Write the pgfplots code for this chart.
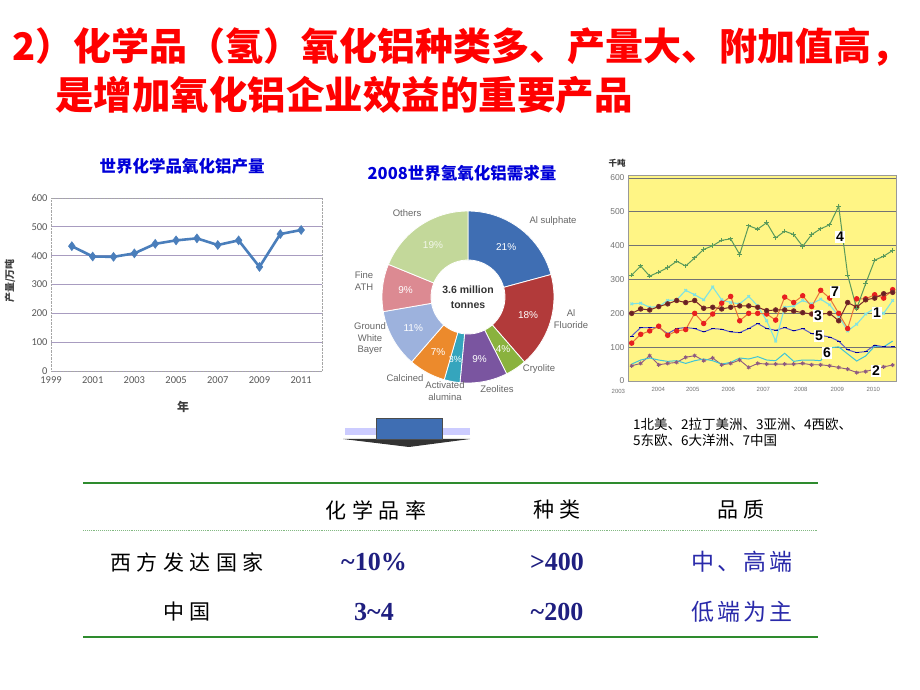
\documentclass[border=0pt]{standalone}
\usepackage{pgfplots}
\usepackage{pgfplotstable}
\pgfplotsset{compat=1.18}
\usepackage{fontspec}
\setmainfont{Liberation Sans}
\newfontfamily\cjk{Noto Sans CJK SC}
\newfontfamily\cjksp{Noto Sans CJK SC}[LetterSpace=26]
\newfontfamily\cjkq{Noto Sans CJK SC}[LetterSpace=13]
\newfontfamily\carlito{Carlito}
\newfontfamily\tnr{Liberation Serif}
\definecolor{tickgray}{HTML}{595959}
\definecolor{lineblue}{HTML}{4A7EBB}
\definecolor{gridpurple}{HTML}{A89CC0}
\definecolor{ttlblue}{HTML}{0000D8}
\definecolor{chyellow}{HTML}{FFF585}
\definecolor{tblgreen}{HTML}{2E8B2E}
\definecolor{tblnavy}{HTML}{1F1F80}
\definecolor{tblblue}{HTML}{2A2AAA}
\definecolor{wA}{HTML}{3F6EB3}
\definecolor{wB}{HTML}{B23A3A}
\definecolor{wC}{HTML}{8AB23E}
\definecolor{wD}{HTML}{7A55A0}
\definecolor{wE}{HTML}{35A5BD}
\definecolor{wF}{HTML}{EC8A2C}
\definecolor{wG}{HTML}{9DB2DD}
\definecolor{wH}{HTML}{DC8A92}
\definecolor{wI}{HTML}{C3D89A}
\definecolor{sOne}{HTML}{7FE3E3}
\definecolor{sTwo}{HTML}{8E5A80}
\definecolor{sThree}{HTML}{7A2A2A}
\definecolor{sFour}{HTML}{5A9A5A}
\definecolor{sFive}{HTML}{5A5AC8}
\definecolor{sSix}{HTML}{3FC4D6}
\definecolor{sSeven}{HTML}{E8743A}
\definecolor{sSevenM}{HTML}{E82020}
\definecolor{titlered}{HTML}{FF0000}

\pgfplotstableread{
year val
2000 433
2001 397
2002 396
2003 408
2004 441
2005 453
2006 460
2007 437
2008 453
2009 361
2010 475
2011 489
}\prodtable

\pgfplotstableread{
q s1 s2 s3 s4 s5 s6 s7
0 228 45 200 313 133 50 112
1 230 52 213 340 158 62 138
2 218 75 210 310 158 68 148
3 220 48 220 322 158 62 162
4 238 52 228 335 140 58 135
5 240 55 238 354 155 60 148
6 268 70 232 340 158 52 152
7 255 75 238 364 155 60 200
8 240 60 215 389 145 65 170
9 278 68 218 400 155 60 198
10 240 48 213 416 153 50 230
11 232 52 218 420 145 55 250
12 228 62 222 374 143 68 178
13 250 40 222 459 155 65 200
14 222 52 218 449 170 72 200
15 178 50 208 468 155 62 198
16 118 50 210 423 150 60 180
17 218 50 210 443 158 82 248
18 222 50 207 433 148 58 232
19 238 52 202 398 155 62 252
20 228 48 198 433 140 62 220
21 242 48 198 450 135 60 268
22 225 45 200 462 130 98 245
23 192 40 178 517 118 101 200
24 148 35 232 313 92 80 155
25 168 25 218 214 84 59 243
26 198 28 240 288 87 74 243
27 215 35 245 357 106 103 255
28 200 42 258 369 101 101 245
29 238 47 262 386 101 118 270
}\regtable

\newcommand\donutwedge[3]{%
\addplot[fill=#3, draw=white, line width=0.8pt, domain=0:2, samples=41, variable=\t]
 ({wr(\t)*cos(wa(\t,#1,#2))},{wr(\t)*sin(wa(\t,#1,#2))}) -- cycle;}

\begin{document}
\begin{tikzpicture}[x=1pt,y=1pt]
\path[fill=white] (0pt,0pt) rectangle (920pt,690pt);

% ---------- title ----------
\node[anchor=west, inner sep=0pt, text=titlered, draw=none] at (12pt,643pt) {\cjk\bfseries\fontsize{38}{40}\selectfont 2）化学品（氢）氧化铝种类多、产量大、附加值高，};
\node[anchor=west, inner sep=0pt, text=titlered] at (55pt,595pt) {\cjk\bfseries\fontsize{38.5}{40}\selectfont 是增加氧化铝企业效益的重要产品};

% ---------- left chart ----------
\node[text=ttlblue] at (182pt,524pt) {\cjk\bfseries\fontsize{16.5}{18}\selectfont 世界化学品氧化铝产量};
\begin{axis}[at={(51pt,319pt)}, anchor=south west, scale only axis,
  width=271pt, height=173pt,
  xmin=1999, xmax=2012, ymin=0, ymax=600,
  xtick={1999,2001,...,2011}, ytick={0,100,...,600},
  x tick label style={/pgf/number format/1000 sep={}, yshift=-2pt},
  /pgf/number format/assume math mode=true,
  tick label style={font=\carlito\fontsize{10.5}{12}\selectfont, text=tickgray},
  ymajorgrids, grid style={color=gridpurple, line width=0.7pt},
  axis line style={draw=black!35, densely dotted},
  major tick style={draw=none},
  clip=false]
\addplot[color=lineblue, line width=2.6pt, mark=diamond*, mark size=4.5pt,
  mark options={solid, fill=lineblue, line width=0.5pt}] table[x=year, y=val] {\prodtable};
\end{axis}
\node[rotate=90, text=black!75] at (10pt,409pt) {\cjk\bfseries\fontsize{10}{11}\selectfont 产量/万吨};
\node[text=black!75] at (183pt,283pt) {\cjk\bfseries\fontsize{12}{13}\selectfont 年};

% ---------- donut ----------
\node[text=ttlblue] at (462pt,517pt) {\cjk\bfseries\fontsize{16.5}{18}\selectfont 2008世界氢氧化铝需求量};
\begin{axis}[at={(382pt,307pt)}, anchor=south west, scale only axis,
  width=172pt, height=172pt, hide axis,
  xmin=-1, xmax=1, ymin=-1, ymax=1, clip=false,
  declare function={wr(\t)=((\t<1.01) ? 1 : 0.43);
    wa(\t,\a,\b)=((\t<1.01) ? (90-3.5644*(\a+(\b-\a)*\t)) : (90-3.5644*(\b-(\b-\a)*(\t-1.05)/0.95)));}]
\donutwedge{0}{21}{wA}
\donutwedge{21}{39}{wB}
\donutwedge{39}{43}{wC}
\donutwedge{43}{52}{wD}
\donutwedge{52}{55}{wE}
\donutwedge{55}{62}{wF}
\donutwedge{62}{73}{wG}
\donutwedge{73}{82}{wH}
\donutwedge{82}{101}{wI}
\begin{scope}[every node/.style={text=white, font=\fontsize{10}{11}\selectfont, inner sep=0pt}]
\node at (axis cs:{0.73*cos(52.57)},{0.73*sin(52.57)}) {21\%};
\node at (axis cs:{0.73*cos(-16.93)},{0.73*sin(-16.93)}) {18\%};
\node at (axis cs:{0.73*cos(-56.14)},{0.73*sin(-56.14)}) {4\%};
\node at (axis cs:{0.73*cos(-79.31)},{0.73*sin(-79.31)}) {9\%};
\node[font=\fontsize{9}{10}\selectfont] at (axis cs:{0.74*cos(-101.5)},{0.74*sin(-101.5)}) {3\%};
\node at (axis cs:{0.73*cos(-118.5)},{0.73*sin(-118.5)}) {7\%};
\node at (axis cs:{0.73*cos(-150.6)},{0.73*sin(-150.6)}) {11\%};
\node at (axis cs:{0.73*cos(-186.2)},{0.73*sin(-186.2)}) {9\%};
\node[text=white!80!wI] at (axis cs:{0.73*cos(-236.1)},{0.73*sin(-236.1)}) {19\%};
\end{scope}
\end{axis}
\node[align=center, text=black!80, font=\bfseries\fontsize{10.5}{15}\selectfont] at (468pt,393pt) {3.6 million\\tonnes};
\begin{scope}[every node/.style={text=black!60, font=\fontsize{9.5}{11.5}\selectfont, inner sep=0pt}]
\node at (553pt,469pt) {Al sulphate};
\node[align=center] at (571pt,371pt) {Al\\Fluoride};
\node at (539pt,321pt) {Cryolite};
\node at (497pt,301pt) {Zeolites};
\node[align=center] at (445pt,299pt) {Activated\\alumina};
\node at (405pt,312pt) {Calcined};
\node[align=center] at (370pt,351pt) {Ground\\White\\Bayer};
\node[align=right] at (364pt,409pt) {Fine\\ATH};
\node at (407pt,477pt) {Others};
\end{scope}

% ---------- arrow ----------
\fill[blue!20] (345pt,255pt) rectangle (470pt,262pt);
\fill[black!80] (343pt,251pt) -- (470pt,251pt) -- (409pt,243pt) -- cycle;
\filldraw[fill=wA, draw=black!70, line width=0.8pt] (376pt,251pt) rectangle (442pt,272pt);

% ---------- right chart ----------
\node[text=black!80] at (617pt,527pt) {\cjk\bfseries\fontsize{8.5}{9}\selectfont 千吨};
\begin{axis}[at={(628pt,309pt)}, anchor=south west, scale only axis,
  width=268pt, height=206pt,
  xmin=-0.41, xmax=29.37, ymin=0, ymax=609,
  axis background/.style={fill=chyellow},
  ytick={0,100,...,600},
  xtick={2.96,6.78,10.74,14.63,18.8,22.85,26.85},
  xticklabels={2004,2005,2006,2007,2008,2009,2010},
  /pgf/number format/assume math mode=true,
  y tick label style={font=\fontsize{8.5}{9}\selectfont, text=black!55},
  x tick label style={font=\fontsize{6}{7}\selectfont, text=black!55, yshift=-3pt},
  ymajorgrids, grid style={color=black!55, line width=0.9pt},
  axis line style={draw=black!40},
  major tick style={draw=none},
  clip=false]
\addplot[color=sTwo, line width=0.9pt, mark=asterisk, mark size=2pt] table[x=q, y=s2] {\regtable};
\addplot[color=sSix, line width=1pt, mark=none] table[x=q, y=s6] {\regtable};
\addplot[color=sFive, line width=1pt, mark=-, mark size=2pt, mark options={color=blue!60!black}] table[x=q, y=s5] {\regtable};
\addplot[color=sOne, line width=1.1pt, mark=x, mark size=1.8pt] table[x=q, y=s1] {\regtable};
\addplot[color=sSeven, line width=1pt, mark=*, mark size=2.2pt, mark options={fill=sSevenM, draw=sSevenM}] table[x=q, y=s7] {\regtable};
\addplot[color=sThree, line width=1pt, mark=*, mark size=2.2pt, mark options={fill=sThree!80!black}] table[x=q, y=s3] {\regtable};
\addplot[color=sFour, line width=1pt, mark=+, mark size=2.2pt] table[x=q, y=s4] {\regtable};
\node[font=\fontsize{6}{7}\selectfont, text=black!55, anchor=north, yshift=-5pt] at (axis cs:-1.48,0) {2003};
\end{axis}
\begin{scope}[every node/.style={fill=white, inner sep=1pt, font=\bfseries\fontsize{14}{15}\selectfont}]
\node at (840pt,453pt) {4};
\node at (835pt,398pt) {7};
\node at (877pt,377pt) {1};
\node at (818pt,374pt) {3};
\node at (819pt,354pt) {5};
\node at (827pt,337pt) {6};
\node at (876pt,319pt) {2};
\end{scope}
\node[anchor=west, inner sep=0pt] at (633pt,266pt) {\cjk\fontsize{13.5}{14}\selectfont 1北美、2拉丁美洲、3亚洲、4西欧、};
\node[anchor=west, inner sep=0pt] at (633pt,250pt) {\cjk\fontsize{13.5}{14}\selectfont 5东欧、6大洋洲、7中国};

% ---------- table ----------
\draw[tblgreen, line width=2.6pt] (83pt,207pt) -- (818pt,207pt);
\draw[tblgreen!60, line width=0.9pt, densely dotted] (83pt,160pt) -- (818pt,160pt);
\draw[tblgreen, line width=2.6pt] (83pt,53pt) -- (818pt,53pt);
\begin{scope}[every node/.style={inner sep=0pt}]
\node at (376pt,180pt) {\cjksp\fontsize{21}{22}\selectfont 化学品率};
\node at (557pt,180pt) {\cjksp\fontsize{21}{22}\selectfont 种类};
\node at (741pt,180pt) {\cjksp\fontsize{21}{22}\selectfont 品质};
\node at (187pt,128pt) {\cjksp\fontsize{21}{22}\selectfont 西方发达国家};
\node at (187pt,78pt) {\cjksp\fontsize{21}{22}\selectfont 中国};
\node[text=tblnavy] at (374pt,128pt) {\tnr\bfseries\fontsize{26}{27}\selectfont \textasciitilde10\%};
\node[text=tblnavy] at (557pt,128pt) {\tnr\bfseries\fontsize{26}{27}\selectfont >400};
\node[text=tblnavy] at (374pt,78pt) {\tnr\bfseries\fontsize{26}{27}\selectfont 3\textasciitilde4};
\node[text=tblnavy] at (557pt,78pt) {\tnr\bfseries\fontsize{26}{27}\selectfont \textasciitilde200};
\node[text=tblblue] at (742pt,128pt) {\cjkq\fontsize{23}{24}\selectfont 中、高端};
\node[text=tblblue] at (742pt,78pt) {\cjkq\fontsize{23}{24}\selectfont 低端为主};
\end{scope}
\end{tikzpicture}
\end{document}
